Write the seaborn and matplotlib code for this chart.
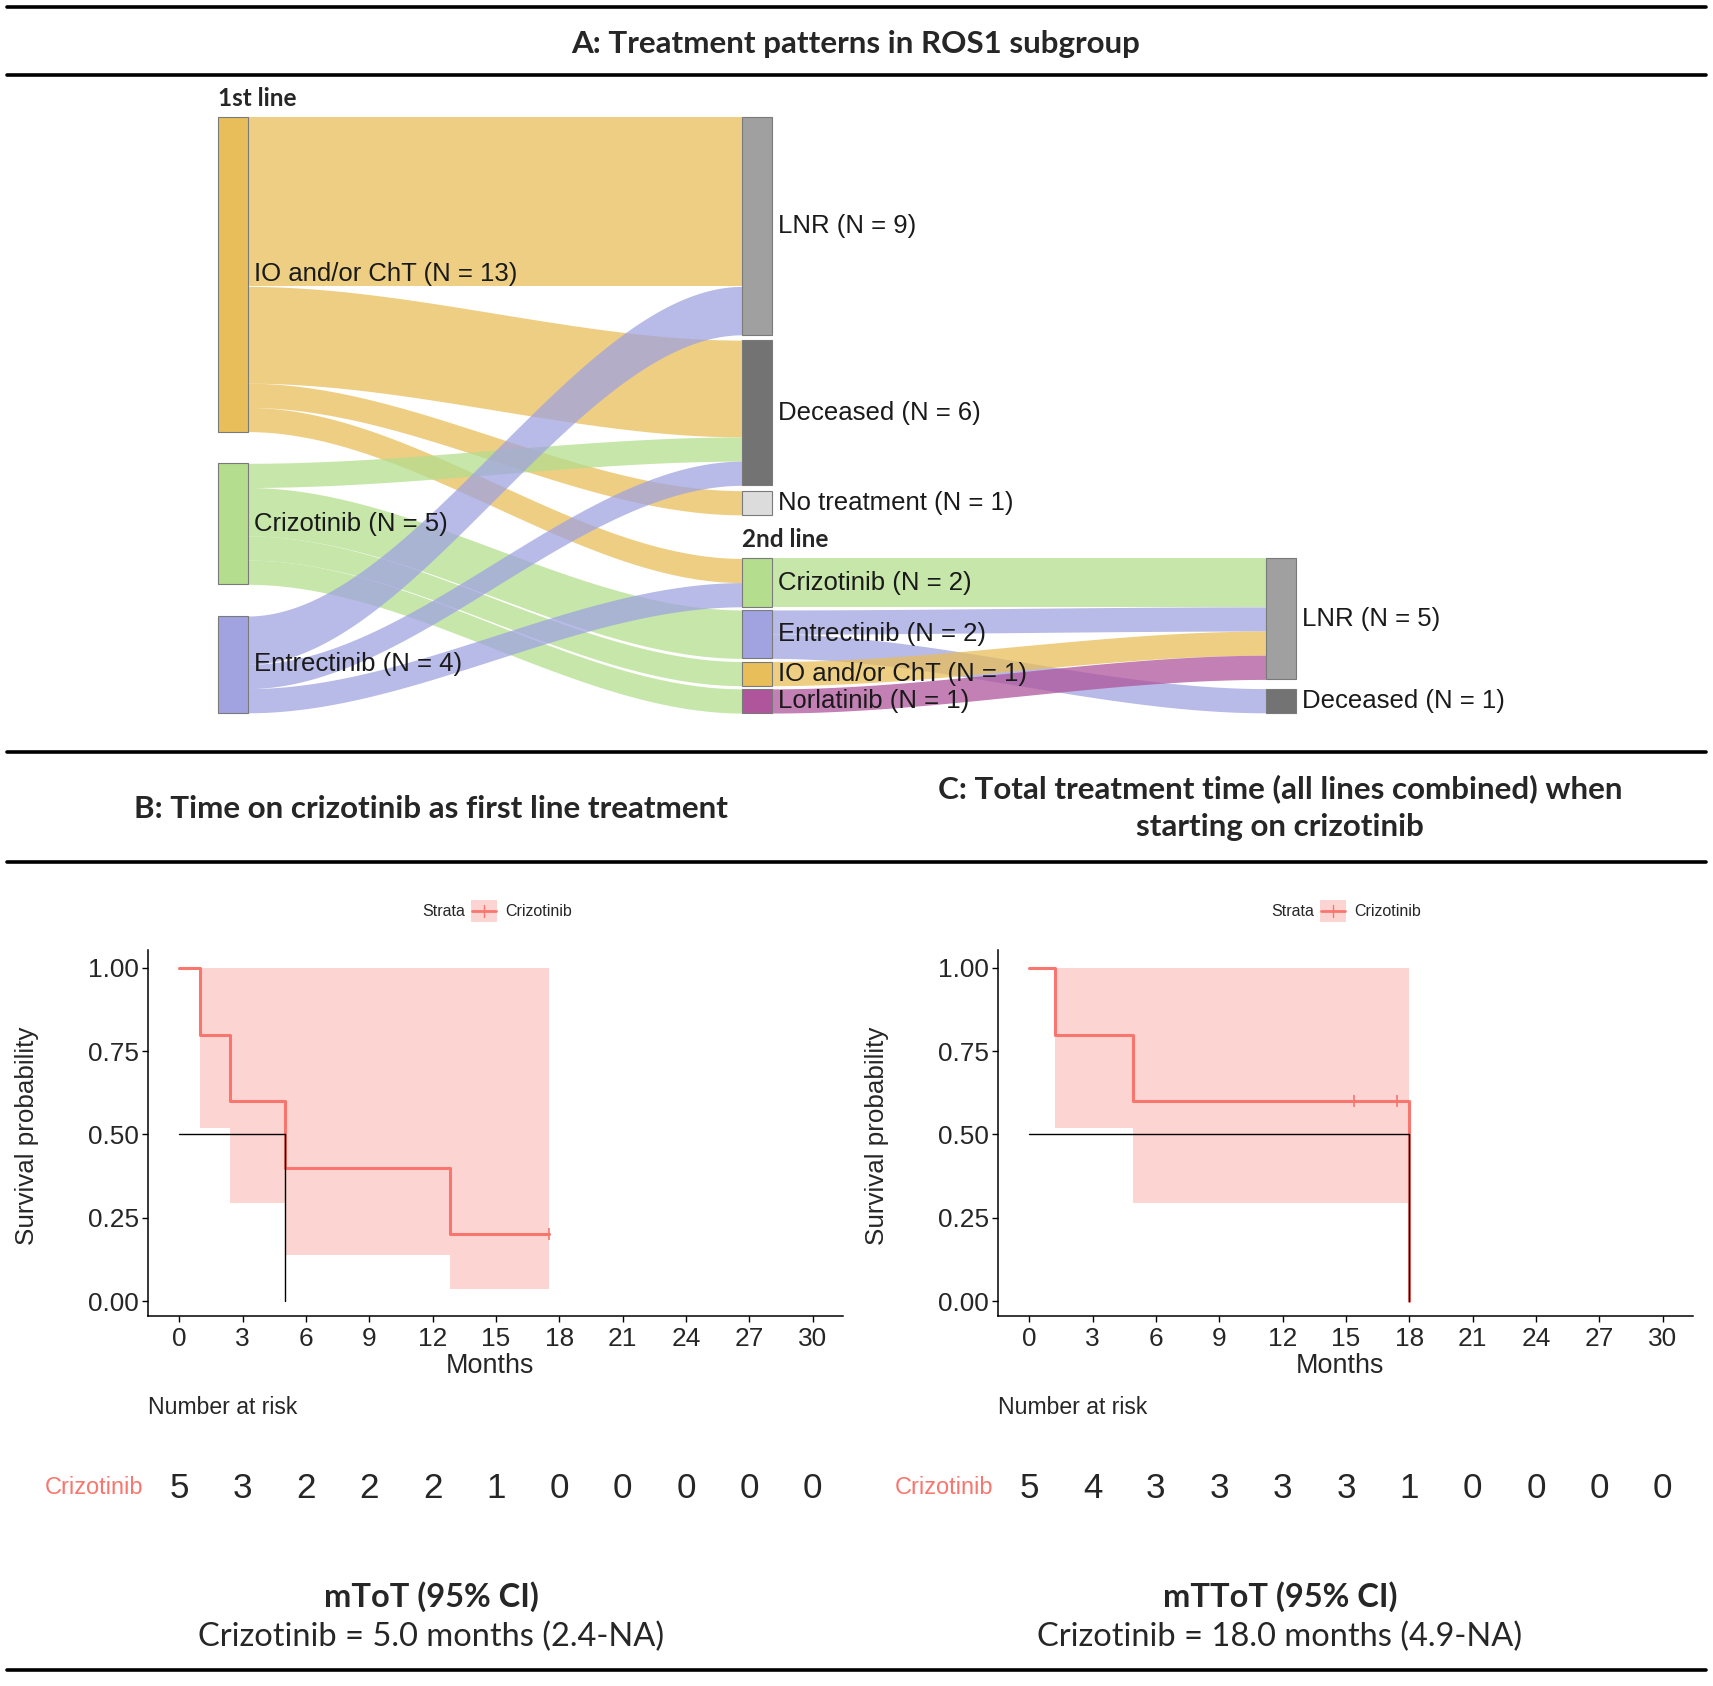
import matplotlib
matplotlib.use("Agg")
import matplotlib.pyplot as plt
from matplotlib import font_manager
from matplotlib.patches import Rectangle
from matplotlib.lines import Line2D
from matplotlib.transforms import blended_transform_factory
import numpy as np
import pandas as pd
import seaborn as sns

# -----------------------------
# Data: treatment flows (Sankey)
# -----------------------------
node_ids = ["L1_IO", "L1_Criz", "L1_Entr",
            "O_LNR", "O_Dec", "O_NoTx",
            "L2_Criz", "L2_Entr", "L2_IO", "L2_Lorl",
            "F_LNR", "F_Dec"]
node_names = ["IO and/or ChT", "Crizotinib", "Entrectinib",
              "LNR", "Deceased", "No treatment",
              "Crizotinib", "Entrectinib", "IO and/or ChT", "Lorlatinib",
              "LNR", "Deceased"]
node_n = [13, 5, 4, 9, 6, 1, 2, 2, 1, 1, 5, 1]

flow_from = ["L1_IO", "L1_IO", "L1_IO", "L1_IO",
             "L1_Criz", "L1_Criz", "L1_Criz", "L1_Criz",
             "L1_Entr", "L1_Entr", "L1_Entr",
             "L2_Criz", "L2_Entr", "L2_Entr", "L2_IO", "L2_Lorl"]
flow_to = ["O_LNR", "O_Dec", "O_NoTx", "L2_Criz",
           "O_Dec", "L2_Entr", "L2_IO", "L2_Lorl",
           "O_LNR", "O_Dec", "L2_Criz",
           "F_LNR", "F_LNR", "F_Dec", "F_LNR", "F_LNR"]
flow_n = [7, 4, 1, 1, 1, 2, 1, 1, 2, 1, 1, 2, 1, 1, 1, 1]

# -----------------------------
# Data: Kaplan-Meier curves
# -----------------------------
risk_times = [0, 3, 6, 9, 12, 15, 18, 21, 24, 27, 30]

b_time = [0, 1.0, 2.4, 5.0, 12.8, 17.5]
b_surv = [1.0, 0.8, 0.6, 0.4, 0.2, 0.2]
b_lower = [1.0, 0.52, 0.295, 0.138, 0.036, 0.036]
b_upper = [1.0, 1.0, 1.0, 1.0, 1.0, 1.0]
b_censor_time = [17.5]
b_censor_surv = [0.2]
b_median = 5.0
b_risk = [5, 3, 2, 2, 2, 1, 0, 0, 0, 0, 0]

c_time = [0, 1.24, 4.91, 18.0]
c_surv = [1.0, 0.8, 0.6, 0.0]
c_lower = [1.0, 0.52, 0.295, 0.295]
c_upper = [1.0, 1.0, 1.0, 1.0]
c_censor_time = [15.4, 17.4]
c_censor_surv = [0.6, 0.6]
c_median = 18.0
c_risk = [5, 4, 3, 3, 3, 3, 1, 0, 0, 0, 0]

# -----------------------------
# Styling
# -----------------------------
W, H = 1713, 1686
sns.set_style("ticks")
avail = {f.name for f in font_manager.fontManager.ttflist}
NARROW = "Liberation Sans Narrow" if "Liberation Sans Narrow" in avail else "Liberation Sans"
NS = 1.0 if NARROW == "Liberation Sans Narrow" else 0.97
ARIAL = "Liberation Sans"
TITLE = "Lato"
plt.rcParams["font.family"] = [ARIAL, "DejaVu Sans"]

RED = "#F8766D"
node_color = {
    "L1_IO": "#E8BE5A", "L1_Criz": "#B4DE8E", "L1_Entr": "#A0A3E0",
    "O_LNR": "#A0A0A0", "O_Dec": "#737373", "O_NoTx": "#DCDCDC",
    "L2_Criz": "#B4DE8E", "L2_Entr": "#A0A3E0", "L2_IO": "#E8BE5A", "L2_Lorl": "#AF559B",
    "F_LNR": "#A0A0A0", "F_Dec": "#737373",
}

fig = plt.figure(figsize=(W / 100, H / 100), dpi=100)


def fx(px):
    return px / W


def fy(py):
    return 1 - py / H


def px_axes(x0, y0, x1, y1):
    return fig.add_axes([fx(x0), fy(y1), (x1 - x0) / W, (y1 - y0) / H])


# separators
for yy in [7, 75, 752, 862, 1670]:
    fig.add_artist(Line2D([fx(7), fx(1706)], [fy(yy), fy(yy)], color="black", lw=2.6))

fig.text(fx(856), fy(44), "A: Treatment patterns in ROS1 subgroup", ha="center", va="center",
         fontsize=22.6, fontweight="bold", family=TITLE)
fig.text(fx(431), fy(809), "B: Time on crizotinib as first line treatment", ha="center", va="center",
         fontsize=22.6, fontweight="bold", family=TITLE)
fig.text(fx(1280), fy(808), "C: Total treatment time (all lines combined) when\nstarting on crizotinib",
         ha="center", va="center", fontsize=22.6, fontweight="bold", family=TITLE, linespacing=1.42)

# -----------------------------
# Panel A: Sankey
# -----------------------------
COL_X0, COL_DX, UNIT_PX, TOP_PX = 218, 524, 24.2, 117
NODE_W = 29.5 / COL_DX
ax_s = px_axes(0, 80, W, 750)
ax_s.set_xlim(-COL_X0 / COL_DX, (W - COL_X0) / COL_DX)
ax_s.set_ylim((750 - TOP_PX) / UNIT_PX, (80 - TOP_PX) / UNIT_PX)
ax_s.axis("off")

n_of = dict(zip(node_ids, node_n))
name_of = dict(zip(node_ids, node_names))
col_of = {k: (0 if k.startswith("L1") else 2 if k.startswith("F") else 1) for k in node_ids}

# node layout from counts
top = {}
y = 0.0
for k in ["L1_IO", "L1_Criz", "L1_Entr"]:
    top[k] = y
    y += n_of[k] + 1.31
col0_bottom = y - 1.31
y = 0.0
for k in ["O_LNR", "O_Dec", "O_NoTx"]:
    top[k] = y
    y += n_of[k] + 0.22
y += 1.58
for k in ["L2_Criz", "L2_Entr", "L2_IO", "L2_Lorl"]:
    top[k] = y
    y += n_of[k] + 0.13
top["F_LNR"] = top["L2_Criz"]
top["F_Dec"] = col0_bottom - n_of["F_Dec"]

flows = pd.DataFrame({"src": flow_from, "dst": flow_to, "n": flow_n})
flows["src_top"] = flows["src"].map(top)
flows["dst_top"] = flows["dst"].map(top)

# stack outflows by target position, inflows by source position
out_off, in_off = {}, {}
flows["y_src"] = 0.0
flows["y_dst"] = 0.0
for i in flows.sort_values(["src", "dst_top"]).index:
    s = flows.at[i, "src"]
    flows.at[i, "y_src"] = top[s] + out_off.get(s, 0)
    out_off[s] = out_off.get(s, 0) + flows.at[i, "n"]
for i in flows.sort_values(["dst", "src_top"]).index:
    d = flows.at[i, "dst"]
    flows.at[i, "y_dst"] = top[d] + in_off.get(d, 0)
    in_off[d] = in_off.get(d, 0) + flows.at[i, "n"]

t = np.linspace(0, 1, 120)
ease = 3 * t ** 2 - 2 * t ** 3
for _, f in flows.iterrows():
    c = col_of[f["src"]]
    xs = c + NODE_W + (1 - NODE_W) * t
    y0 = f["y_src"] + (f["y_dst"] - f["y_src"]) * ease
    ax_s.fill_between(xs, y0, y0 + f["n"], color=node_color[f["src"]], alpha=0.75, lw=0)

for k in node_ids:
    c = col_of[k]
    ax_s.bar(c, n_of[k], bottom=top[k], width=NODE_W, align="edge",
             color=node_color[k], edgecolor="#7a7a7a", linewidth=0.8)
    ax_s.text(c + NODE_W + 0.012, top[k] + n_of[k] / 2, f"{name_of[k]} (N = {n_of[k]})",
              ha="left", va="center", fontsize=18.5, family=ARIAL, color="#1a1a1a")

ax_s.text(0, top["L1_IO"] - 0.3, "1st line", ha="left", va="bottom",
          fontsize=17.5, fontweight="bold", family=TITLE)
ax_s.text(1, top["L2_Criz"] - 0.3, "2nd line", ha="left", va="bottom",
          fontsize=17.5, fontweight="bold", family=TITLE)


# -----------------------------
# Panels B and C: Kaplan-Meier
# -----------------------------
def km_panel(x0, x1, time, surv, lower, upper, cens_t, cens_s, median, risk,
             med_label, med_text, cx, legend_x):
    ax = px_axes(x0, 950, x1, 1316)
    ax.fill_between(time, lower, upper, step="post", color=RED, alpha=0.3, lw=0)
    df = pd.DataFrame({"time": time, "surv": surv})
    sns.lineplot(data=df, x="time", y="surv", drawstyle="steps-post", color=RED,
                 lw=2.2, ax=ax, estimator=None, sort=False)
    ax.scatter(cens_t, cens_s, marker="|", s=70, color=RED, lw=1.2, zorder=4)
    ax.plot([0, median], [0.5, 0.5], color="black", lw=1.0)
    ax.plot([median, median], [0.5, 0], color="black", lw=1.0)
    ax.set_xlim(-1.5, 31.43)
    ax.set_ylim(-0.045, 1.054)
    ax.set_xticks(risk_times)
    ax.set_yticks([0, 0.25, 0.5, 0.75, 1.0])
    ax.set_yticklabels(["0.00", "0.25", "0.50", "0.75", "1.00"])
    ax.set_xlabel("")
    ax.set_ylabel("")
    for lab in ax.get_xticklabels() + ax.get_yticklabels():
        lab.set_family(NARROW)
        lab.set_fontsize(19.5 * NS)
    ax.tick_params(length=4, width=1, color="black", pad=2)
    ax.tick_params(axis="x", pad=4)
    sns.despine(ax=ax)
    for sp in ["left", "bottom"]:
        ax.spines[sp].set_linewidth(1.1)
        ax.spines[sp].set_color("black")

    fig.text(fx(x0 - 120), fy(1136), "Survival probability", rotation=90, ha="center", va="center",
             fontsize=18.7, family=ARIAL)
    fig.text(fx((x0 + x1) / 2 - 5), fy(1366), "Months", ha="center", va="center",
             fontsize=20 * NS, family=NARROW)

    # legend
    lx = legend_x
    fig.text(fx(lx - 19), fy(911), "Strata", ha="right", va="center", fontsize=11.5, family=ARIAL)
    fig.add_artist(Rectangle((fx(lx - 13), fy(922)), 26 / W, 22 / H, transform=fig.transFigure,
                             facecolor=RED, alpha=0.3, lw=0))
    fig.add_artist(Line2D([fx(lx - 12), fx(lx + 12)], [fy(911), fy(911)], color=RED, lw=2))
    fig.add_artist(Line2D([fx(lx), fx(lx)], [fy(905), fy(917)], color=RED, lw=1))
    fig.text(fx(lx + 21), fy(911), "Crizotinib", ha="left", va="center", fontsize=11.5, family=ARIAL)

    # risk table
    fig.text(fx(x0), fy(1407), "Number at risk", ha="left", va="center",
             fontsize=16.6, family=NARROW)
    fig.text(fx(x0 - 4), fy(1488), "Crizotinib", ha="right", va="center",
             fontsize=16.9, family=NARROW, color=RED)
    tr = blended_transform_factory(ax.transData, fig.transFigure)
    for tt, nn in zip(risk_times, risk):
        ax.text(tt, fy(1488), str(nn), transform=tr, ha="center", va="center",
                fontsize=26 * NS, family=NARROW)

    fig.text(fx(cx), fy(1597), med_label, ha="center", va="center",
             fontsize=23.5, fontweight="bold", family=TITLE)
    fig.text(fx(cx), fy(1637), med_text, ha="center", va="center",
             fontsize=23.5, family=TITLE)
    return ax


km_panel(147.5, 843, b_time, b_surv, b_lower, b_upper, b_censor_time, b_censor_surv,
         b_median, b_risk, "mToT (95% CI)", "Crizotinib = 5.0 months (2.4-NA)", 431, 484)
km_panel(997.5, 1693, c_time, c_surv, c_lower, c_upper, c_censor_time, c_censor_surv,
         c_median, c_risk, "mTToT (95% CI)", "Crizotinib = 18.0 months (4.9-NA)", 1280, 1333)

fig.savefig("out.png", dpi=100, facecolor="white")
